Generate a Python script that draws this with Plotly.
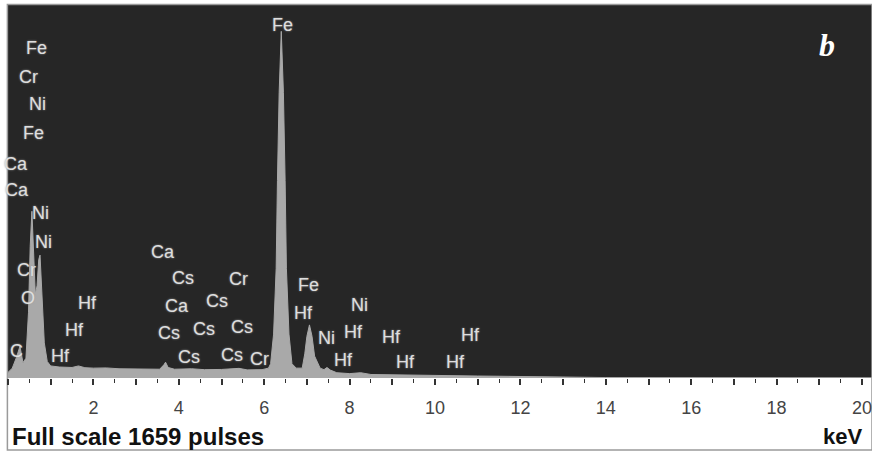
import plotly.graph_objects as go

# Spectrum (energy in keV, counts in pulses)
energy = [0.00, 0.10, 0.20, 0.28, 0.35, 0.42, 0.48, 0.52, 0.56, 0.60, 0.64, 0.68, 0.72, 0.75,
          0.79, 0.85, 0.92, 1.00, 1.20, 1.50, 1.65, 1.80, 2.00, 2.30, 2.60, 3.00, 3.30, 3.55,
          3.65, 3.69, 3.75, 3.90, 4.30, 4.60, 5.00, 5.41, 5.60, 5.95, 6.10, 6.15, 6.22, 6.28,
          6.31, 6.35, 6.40, 6.45, 6.49, 6.52, 6.58, 6.65, 6.75, 6.89, 6.95, 7.00, 7.06, 7.12,
          7.18, 7.31, 7.40, 7.47, 7.55, 7.70, 8.00, 8.26, 8.50, 9.00, 9.50, 10.00, 10.50,
          11.00, 11.50, 12.00, 12.50, 13.00, 14.00, 20.30]
counts = [25, 45, 95, 145, 70, 90, 300, 600, 760, 560, 380, 420, 540, 560,
          420, 160, 75, 55, 50, 48, 55, 47, 45, 46, 42, 42, 40, 40,
          60, 72, 48, 40, 42, 38, 39, 44, 37, 38, 45, 65, 200, 500,
          900, 1300, 1580, 1300, 900, 500, 200, 65, 45, 45, 110, 190, 242, 190,
          100, 45, 38, 48, 36, 24, 20, 24, 16, 14, 12, 11, 10,
          9, 8, 7, 5, 3, 2, 1]

# Peak labels: (text, keV, pulses)
peak_labels = [
    ("Fe", 0.66, 1504), ("Cr", 0.49, 1372), ("Ni", 0.68, 1249), ("Fe", 0.59, 1117),
    ("Ca", 0.19, 975), ("Ca", 0.21, 857), ("Ni", 0.75, 752), ("Ni", 0.84, 620),
    ("Cr", 0.44, 492), ("O", 0.47, 365), ("C", 0.21, 123),
    ("Hf", 1.85, 342), ("Hf", 1.55, 219), ("Hf", 1.22, 100),
    ("Ca", 3.63, 574), ("Cs", 4.10, 456), ("Cr", 5.39, 451), ("Ca", 3.96, 328),
    ("Cs", 4.89, 351), ("Cs", 3.77, 205), ("Cs", 4.59, 223), ("Cs", 5.48, 232),
    ("Cs", 4.24, 96), ("Cs", 5.25, 105), ("Cr", 5.90, 87),
    ("Fe", 6.44, 1609), ("Fe", 7.03, 424), ("Hf", 6.93, 296), ("Ni", 8.24, 333),
    ("Ni", 7.47, 182), ("Hf", 8.08, 210), ("Hf", 7.85, 82), ("Hf", 8.99, 187),
    ("Hf", 9.30, 73), ("Hf", 10.82, 196), ("Hf", 10.47, 73),
]

tick_values = list(range(0, 21))
tick_labels = [str(v) if v % 2 == 0 and v > 0 else "" for v in tick_values]

W, H = 872, 454
ML, MR, MT, MB = 8, 0, 5, 76
plot_w = W - ML - MR
plot_h = H - MT - MB
px_per_kev = 42.7

fig = go.Figure()
fig.add_trace(go.Scatter(
    x=energy, y=counts, mode="lines", fill="tozeroy",
    line=dict(color="#a9a9a9", width=1), fillcolor="#a9a9a9",
    hoverinfo="skip", showlegend=False,
))

annotations = []
for text, xv, yv in peak_labels:
    annotations.append(dict(
        x=xv, y=yv, xref="x", yref="y", text=text, showarrow=False,
        font=dict(family="Liberation Sans", size=18, color="#dedede",
                  shadow="0px 0px 2px #9a9a9a"),
        xanchor="center", yanchor="middle",
    ))

annotations.append(dict(
    x=2 / plot_w, y=-(437 - (H - MB)) / plot_h, xref="paper", yref="paper",
    text="<b>Full scale 1659 pulses</b>", showarrow=False, xanchor="left", yanchor="middle",
    font=dict(family="Liberation Sans", size=24, color="#111111"),
))
annotations.append(dict(
    x=(864 - ML) / plot_w, y=-(437 - (H - MB)) / plot_h, xref="paper", yref="paper",
    text="<b>keV</b>", showarrow=False, xanchor="right", yanchor="middle",
    font=dict(family="Liberation Sans", size=22, color="#111111"),
))
annotations.append(dict(
    x=(827 - ML) / plot_w, y=((H - MB) - 45) / plot_h, xref="paper", yref="paper",
    text="<b><i>b</i></b>", showarrow=False, xanchor="center", yanchor="middle",
    font=dict(family="Liberation Serif", size=32, color="#ffffff"),
))

fig.update_layout(
    width=W, height=H,
    margin=dict(l=ML, r=MR, t=MT, b=MB),
    paper_bgcolor="#ffffff", plot_bgcolor="#262626",
    annotations=annotations,
    shapes=[dict(
        type="rect", xref="paper", yref="paper",
        x0=-0.6 / plot_w, x1=1.0, y0=-(450 - (H - MB)) / plot_h, y1=1.0 + 0.5 / plot_h,
        line=dict(color="#9a9a9a", width=1.5), fillcolor="rgba(0,0,0,0)", layer="below",
    )],
    xaxis=dict(
        range=[0, plot_w / px_per_kev], showgrid=False, zeroline=False,
        tickmode="array", tickvals=tick_values, ticktext=tick_labels,
        ticks="outside", ticklen=6, tickwidth=1.5, tickcolor="#333333",
        minor=dict(ticks="outside", dtick=0.5, ticklen=4, tickwidth=1, tickcolor="#333333"),
        tickfont=dict(family="Liberation Sans", size=18, color="#444444"),
        ticklabelstandoff=7, ticklabeloverflow="allow",
        showline=False, fixedrange=True,
    ),
    yaxis=dict(range=[0, 1700], visible=False, fixedrange=True),
)

fig.write_html(
    "out.html",
    config={"displayModeBar": False},
    post_script="document.body.style.margin='0';document.body.style.overflow='hidden';",
)
